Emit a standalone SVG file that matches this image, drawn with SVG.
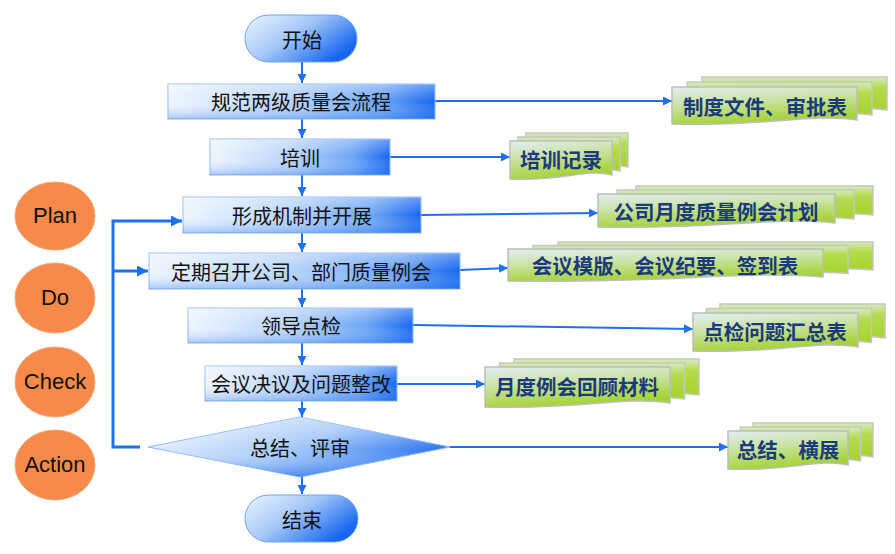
<svg xmlns="http://www.w3.org/2000/svg" width="895" height="554" viewBox="0 0 895 554">
<defs>
<linearGradient id="gBox" x1="0" y1="0" x2="1" y2="0">
<stop offset="0" stop-color="#eef5ff"/>
<stop offset="0.45" stop-color="#b8d4fa"/>
<stop offset="0.8" stop-color="#6aa4f5"/>
<stop offset="1" stop-color="#1766ef"/>
</linearGradient>
<linearGradient id="gShade" x1="0" y1="0" x2="0" y2="1">
<stop offset="0" stop-color="#ffffff" stop-opacity="0.35"/>
<stop offset="0.5" stop-color="#ffffff" stop-opacity="0"/>
<stop offset="1" stop-color="#2a74ee" stop-opacity="0.35"/>
</linearGradient>
<linearGradient id="gPill" x1="0" y1="0" x2="1" y2="0.6">
<stop offset="0" stop-color="#eef5ff"/>
<stop offset="0.5" stop-color="#a3c7f8"/>
<stop offset="1" stop-color="#1766ef"/>
</linearGradient>
<linearGradient id="gDia" x1="0" y1="0.3" x2="1" y2="0.7">
<stop offset="0" stop-color="#eef5ff"/>
<stop offset="0.5" stop-color="#a3c7f8"/>
<stop offset="1" stop-color="#1766ef"/>
</linearGradient>
<linearGradient id="gDiaV" x1="0" y1="0" x2="0" y2="1">
<stop offset="0" stop-color="#ffffff" stop-opacity="0.3"/>
<stop offset="0.55" stop-color="#ffffff" stop-opacity="0"/>
<stop offset="1" stop-color="#1c6cf0" stop-opacity="0.5"/>
</linearGradient>
<linearGradient id="gDoc" x1="0" y1="0" x2="0.3" y2="1">
<stop offset="0" stop-color="#e2eef4"/>
<stop offset="0.45" stop-color="#cbe3a6"/>
<stop offset="1" stop-color="#a6d232"/>
</linearGradient>
<linearGradient id="gDocB" x1="0" y1="0" x2="0" y2="1">
<stop offset="0" stop-color="#d8ebc0"/>
<stop offset="0.3" stop-color="#b5db4e"/>
<stop offset="1" stop-color="#a6d22a"/>
</linearGradient>
<marker id="arr" markerUnits="userSpaceOnUse" markerWidth="9" markerHeight="9" refX="9" refY="4.5" orient="auto">
<path d="M0,0 L9,4.5 L0,9 z" fill="#1f6ff0"/>
</marker>
<marker id="arrL" markerUnits="userSpaceOnUse" markerWidth="11" markerHeight="11" refX="11" refY="5.5" orient="auto">
<path d="M0,0 L11,5.5 L0,11 z" fill="#1f6ff0"/>
</marker>
</defs>
<style>
.box{fill:url(#gBox);stroke:#8fbaf2;stroke-width:1}
.shade{fill:url(#gShade);stroke:none}
.pill{fill:url(#gPill);stroke:#6fa6f2;stroke-width:1}
.t{font-family:"Noto Sans CJK SC","Noto Sans",sans-serif;font-size:20px;fill:#111;text-anchor:middle;dominant-baseline:central}
.dt{font-family:"Noto Sans CJK SC","Noto Sans",sans-serif;font-size:20.5px;font-weight:bold;fill:#1b3a7c;text-anchor:middle;dominant-baseline:central}
.df{fill:url(#gDoc);stroke:#b9bfb9;stroke-width:1.5}
.db{fill:url(#gDocB);stroke:#c3c8c0;stroke-width:1.5}
.c{fill:none;stroke:#1f6ff0;stroke-width:2}
.cl{fill:none;stroke:#1f6ff0;stroke-width:3}
.pd{fill:#f58a4b;stroke:#f6a676;stroke-width:1}
.pt{font-family:"Liberation Sans",Arial,sans-serif;font-size:22px;fill:#111;text-anchor:middle;dominant-baseline:central}
</style>

<g id="connectors">
<path class="c" d="M302,62 V83" marker-end="url(#arr)"/>
<path class="c" d="M302,119 V138" marker-end="url(#arr)"/>
<path class="c" d="M302,175 V196" marker-end="url(#arr)"/>
<path class="c" d="M302,233 V252" marker-end="url(#arr)"/>
<path class="c" d="M302,289 V307" marker-end="url(#arr)"/>
<path class="c" d="M302,343 V365" marker-end="url(#arr)"/>
<path class="c" d="M302,401 V417" marker-end="url(#arr)"/>
<path class="c" d="M302,477 V494" marker-end="url(#arr)"/>
<path class="c" d="M435,101 H672" marker-end="url(#arr)"/>
<path class="c" d="M390,157 H510" marker-end="url(#arr)"/>
<path class="c" d="M421,215 L598,213" marker-end="url(#arr)"/>
<path class="c" d="M460,270 L508,268" marker-end="url(#arr)"/>
<path class="c" d="M413,325 L693,329" marker-end="url(#arr)"/>
<path class="c" d="M397,384 H485" marker-end="url(#arr)"/>
<path class="c" d="M450,447 H728" marker-end="url(#arr)"/>
<path class="cl" d="M140,447 H113 V221 H182" marker-end="url(#arrL)"/>
<path class="cl" d="M113,271 H148" marker-end="url(#arrL)"/>
</g>

<g id="start">
<rect class="pill" x="245" y="15" width="112" height="47" rx="23.5"/>
<text class="t" x="302" y="39">开始</text>
</g>
<g id="n1">
<rect class="box" x="168" y="84" width="267" height="35"/>
<rect class="shade" x="168" y="84" width="267" height="35"/>
<text class="t" x="301" y="101.5">规范两级质量会流程</text>
</g>
<g id="n2">
<rect class="box" x="210" y="139" width="180" height="36"/>
<rect class="shade" x="210" y="139" width="180" height="36"/>
<text class="t" x="300" y="157">培训</text>
</g>
<g id="n3">
<rect class="box" x="183" y="197" width="238" height="36"/>
<rect class="shade" x="183" y="197" width="238" height="36"/>
<text class="t" x="302" y="215">形成机制并开展</text>
</g>
<g id="n4">
<rect class="box" x="149" y="253" width="311" height="36"/>
<rect class="shade" x="149" y="253" width="311" height="36"/>
<text class="t" x="301" y="271">定期召开公司、部门质量例会</text>
</g>
<g id="n5">
<rect class="box" x="188" y="308" width="225" height="35"/>
<rect class="shade" x="188" y="308" width="225" height="35"/>
<text class="t" x="301" y="325.5">领导点检</text>
</g>
<g id="n6">
<rect class="box" x="205" y="366" width="192" height="35"/>
<rect class="shade" x="205" y="366" width="192" height="35"/>
<text class="t" x="301" y="383.5">会议决议及问题整改</text>
</g>
<g id="decision">
<path d="M148,447 L300,417 L450,447 L300,477 Z" fill="url(#gDia)" stroke="#8fbaf2" stroke-width="1"/>
<path d="M148,447 L300,417 L450,447 L300,477 Z" fill="url(#gDiaV)"/>
<text class="t" x="300" y="447">总结、评审</text>
</g>
<g id="end">
<rect class="pill" x="245" y="495" width="113" height="47" rx="23.5"/>
<text class="t" x="302" y="519">结束</text>
</g>

<g id="d1">
<path class="db" d="M702,77 h185 v33 c-46,-6 -92,6 -185,2 z"/>
<path class="db" d="M687,82 h185 v33 c-46,-6 -92,6 -185,2 z"/>
<path class="df" d="M672,87 h185 v33 c-46,-7 -92,7 -185,4 z"/>
<text class="dt" x="765" y="106">制度文件、审批表</text>
</g>
<g id="d2">
<path class="db" d="M526,133 h102 v34 c-25,-6 -51,6 -102,2 z"/>
<path class="db" d="M518,137 h102 v34 c-25,-6 -51,6 -102,2 z"/>
<path class="df" d="M510,141 h102 v34 c-25,-7 -51,7 -102,4 z"/>
<text class="dt" x="561" y="159">培训记录</text>
</g>
<g id="d3">
<path class="db" d="M636,186 h237 v29 c-60,-6 -118,6 -237,2 z"/>
<path class="db" d="M617,190 h237 v29 c-60,-6 -118,6 -237,2 z"/>
<path class="df" d="M598,194 h237 v29 c-60,-7 -118,7 -237,4 z"/>
<text class="dt" x="716" y="211">公司月度质量例会计划</text>
</g>
<g id="d4">
<path class="db" d="M558,242 h315 v28 c-80,-6 -157,6 -315,2 z"/>
<path class="db" d="M533,245.5 h315 v28 c-80,-6 -157,6 -315,2 z"/>
<path class="df" d="M508,249 h315 v28 c-80,-7 -157,7 -315,4 z"/>
<text class="dt" x="665" y="265">会议模版、会议纪要、签到表</text>
</g>
<g id="d5">
<path class="db" d="M720,304 h165 v34 c-41,-6 -83,6 -165,2 z"/>
<path class="db" d="M706.5,308.5 h165 v34 c-41,-6 -83,6 -165,2 z"/>
<path class="df" d="M693,313 h165 v34 c-41,-7 -83,7 -165,4 z"/>
<text class="dt" x="775" y="331">点检问题汇总表</text>
</g>
<g id="d6">
<path class="db" d="M514,359 h185 v36 c-46,-6 -92,6 -185,2 z"/>
<path class="db" d="M499.5,363 h185 v36 c-46,-6 -92,6 -185,2 z"/>
<path class="df" d="M485,367 h185 v36 c-46,-7 -92,7 -185,4 z"/>
<text class="dt" x="577" y="386">月度例会回顾材料</text>
</g>
<g id="d7">
<path class="db" d="M753,423 h120 v34 c-30,-6 -60,6 -120,2 z"/>
<path class="db" d="M740.5,427 h120 v34 c-30,-6 -60,6 -120,2 z"/>
<path class="df" d="M728,431 h120 v34 c-30,-7 -60,7 -120,4 z"/>
<text class="dt" x="788" y="449">总结、横展</text>
</g>

<g id="plan">
<ellipse class="pd" cx="55" cy="216" rx="40" ry="34"/>
<text class="pt" x="55" y="215">Plan</text>
</g>
<g id="do">
<ellipse class="pd" cx="55" cy="298" rx="40" ry="35"/>
<text class="pt" x="55" y="297">Do</text>
</g>
<g id="check">
<ellipse class="pd" cx="55" cy="382" rx="40" ry="35"/>
<text class="pt" x="55" y="381">Check</text>
</g>
<g id="action">
<ellipse class="pd" cx="55" cy="465" rx="40" ry="35"/>
<text class="pt" x="55" y="464">Action</text>
</g>
</svg>
